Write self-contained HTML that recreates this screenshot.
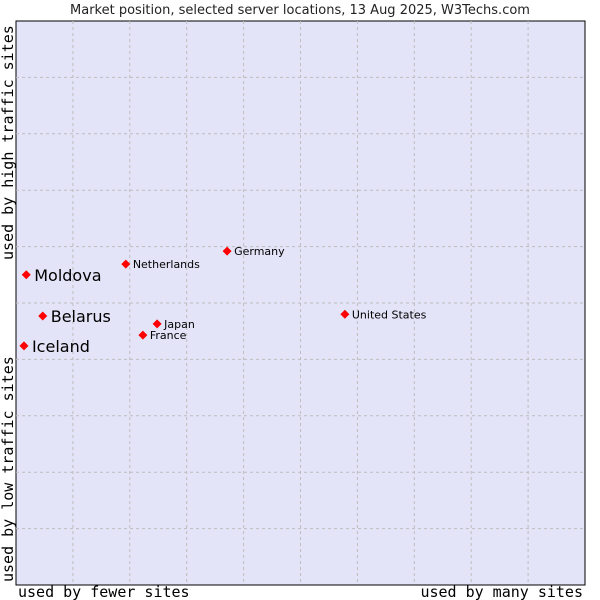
<!DOCTYPE html>
<html><head><meta charset="utf-8"><style>
body{margin:0;background:#fff;}
svg{display:block;}
text{font-family:"DejaVu Sans","Liberation Sans",sans-serif;}
.mono{font-family:"DejaVu Sans Mono","Liberation Mono",monospace;}
</style></head><body>
<svg id="chart" width="600" height="600">
<text x="300" y="14" text-anchor="middle" font-size="13" fill="#222">Market position, selected server locations, 13 Aug 2025, W3Techs.com</text>
<rect x="16" y="21" width="569" height="564" fill="#e3e4f8" stroke="#000" stroke-width="1"/>
<g id="grid"></g>
<g id="pts"></g>
<text class="mono" x="18" y="597" font-size="15" fill="#000">used by fewer sites</text>
<text class="mono" x="583" y="597" font-size="15" text-anchor="end" fill="#000">used by many sites</text>
<text class="mono" transform="translate(13,582) rotate(-90)" font-size="15" fill="#000">used by low traffic sites</text>
<text class="mono" transform="translate(13,260) rotate(-90)" font-size="15" fill="#000">used by high traffic sites</text>
</svg>
<script>
const names = ["Moldova","Belarus","Iceland","Netherlands","Germany","Japan","France","United States"];
const xVals = [1.8,4.7,1.4,19.3,37.1,24.8,22.3,57.8];
const yVals = [55.0,47.7,42.4,56.9,59.2,46.3,44.3,48.0];
const bigLabel = [true,true,true,false,false,false,false,false];
const L=16,R=585,T=21,B=585;
function sx(v){return L+v/100*(R-L);}
function sy(v){return B-v/100*(B-T);}
const NS="http://www.w3.org/2000/svg";
const grid=document.getElementById('grid');
for(let i=1;i<10;i++){
  const x=L+i*(R-L)/10, y=T+i*(B-T)/10;
  const v=document.createElementNS(NS,'line');
  v.setAttribute('x1',x);v.setAttribute('x2',x);v.setAttribute('y1',T);v.setAttribute('y2',B);
  v.setAttribute('stroke','#bdbdbd');v.setAttribute('stroke-dasharray','3,3');
  
  
  grid.appendChild(v);
  const h=document.createElementNS(NS,'line');
  h.setAttribute('y1',y);h.setAttribute('y2',y);h.setAttribute('x1',L);h.setAttribute('x2',R);
  h.setAttribute('stroke','#bdbdbd');h.setAttribute('stroke-dasharray','3,3');
  
  
  grid.appendChild(h);
}
const pts=document.getElementById('pts');
names.forEach((n,i)=>{
  const x=sx(xVals[i]), y=sy(yVals[i]);
  const d=document.createElementNS(NS,'path');
  d.setAttribute('d',`M${x} ${y-4.5}L${x+4.5} ${y}L${x} ${y+4.5}L${x-4.5} ${y}Z`);
  d.setAttribute('fill','#ff0000');
  
  
  pts.appendChild(d);
  const t=document.createElementNS(NS,'text');
  const big=bigLabel[i];
  t.setAttribute('x',x+(big?8:7));
  t.setAttribute('y',y+(big?6:4));
  t.setAttribute('font-size',big?16:11);
  t.setAttribute('fill','#000');
  t.textContent=n;
  
  
  pts.appendChild(t);
});
</script>
</body></html>
